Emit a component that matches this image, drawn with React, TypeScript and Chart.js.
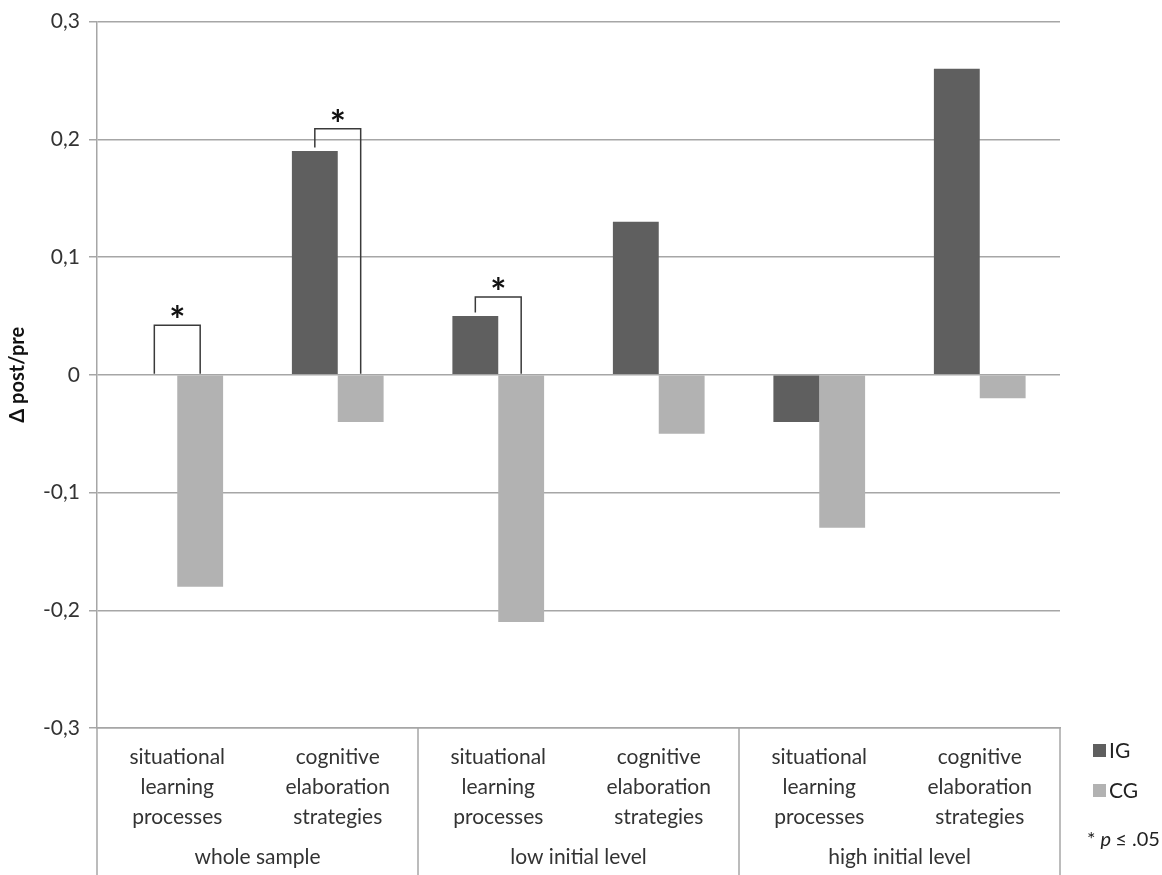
import React, { useEffect, useRef } from "react";
import { Chart, registerables } from "chart.js";

Chart.register(...registerables);

const categories: string[][] = [
  ["situational", "learning", "processes"],
  ["cognitive", "elaboration", "strategies"],
  ["situational", "learning", "processes"],
  ["cognitive", "elaboration", "strategies"],
  ["situational", "learning", "processes"],
  ["cognitive", "elaboration", "strategies"],
];
const groups: string[] = ["whole sample", "low initial level", "high initial level"];
const igValues: (number | null)[] = [null, 0.19, 0.05, 0.13, -0.04, 0.26];
const cgValues: number[] = [-0.18, -0.04, -0.21, -0.05, -0.13, -0.02];
const seriesNames: string[] = ["IG", "CG"];
const seriesColors: string[] = ["#5f5f5f", "#b2b2b2"];
const bracketCategories: number[] = [0, 1, 2];
const bracketTops: number[] = [0.042, 0.209, 0.066];
const yTicks = { min: -0.3, max: 0.3, step: 0.1 };

const FONT = "Lato, 'Open Sans', sans-serif";

const overlayPlugin = {
  id: "overlay",
  afterDraw(chart: any) {
    const ctx = chart.ctx;
    const x = chart.scales.x;
    const y = chart.scales.y;
    const area = chart.chartArea;
    ctx.save();
    // group separators
    ctx.strokeStyle = "#a6a6a6";
    ctx.lineWidth = 1.5;
    const bounds: number[] = [];
    for (let g = 0; g <= groups.length; g++) {
      bounds.push(x.getPixelForValue(g * 2 - 0.5));
    }
    bounds.forEach((bx) => {
      ctx.beginPath();
      ctx.moveTo(bx, area.bottom);
      ctx.lineTo(bx, chart.height);
      ctx.stroke();
    });
    // brackets
    const m0 = chart.getDatasetMeta(0);
    const m1 = chart.getDatasetMeta(1);
    ctx.strokeStyle = "#3a3a3a";
    ctx.lineWidth = 1.5;
    bracketCategories.forEach((c, i) => {
      const xl = m0.data[c].x;
      const xr = m1.data[c].x;
      const top = y.getPixelForValue(bracketTops[i]);
      const igv = igValues[c] ?? 0;
      const leftBottom = y.getPixelForValue(Math.max(igv, 0) + (igv > 0 ? 0.003 : 0)) - (igv > 0 ? 0 : 1);
      const rightBottom = y.getPixelForValue(Math.max(cgValues[c], 0)) - 1;
      ctx.beginPath();
      ctx.moveTo(xl, leftBottom);
      ctx.lineTo(xl, top);
      ctx.lineTo(xr, top);
      ctx.lineTo(xr, rightBottom);
      ctx.stroke();
      ctx.fillStyle = "#111";
      ctx.font = `bold 38px ${FONT}`;
      ctx.textAlign = "center";
      ctx.textBaseline = "alphabetic";
      ctx.fillText("*", (xl + xr) / 2, top + 9);
    });
    // legend
    const lx = area.right + 33;
    ctx.textAlign = "left";
    ctx.textBaseline = "middle";
    ctx.font = `21px ${FONT}`;
    seriesNames.forEach((name, i) => {
      const ly = y.getPixelForValue(yTicks.min) + 22 + i * 40;
      ctx.fillStyle = seriesColors[i];
      ctx.fillRect(lx, ly - 6, 13, 13);
      ctx.fillStyle = "#222";
      ctx.fillText(name, lx + 16, ly + 1);
    });
    const ny = y.getPixelForValue(yTicks.min) + 112;
    let tx = area.right + 27;
    ctx.fillStyle = "#222";
    ctx.font = `20px ${FONT}`;
    ctx.fillText("*", tx, ny);
    tx += ctx.measureText("* ").width;
    ctx.font = `italic 20px ${FONT}`;
    ctx.fillText("p", tx, ny);
    tx += ctx.measureText("p").width + 4;
    ctx.font = `20px ${FONT}`;
    ctx.fillText("\u2264 .05", tx, ny);
    ctx.restore();
  },
};

export default function App() {
  const ref = useRef<HTMLCanvasElement | null>(null);
  useEffect(() => {
    if (!ref.current) return;
    const chart = new Chart(ref.current, {
      type: "bar",
      data: {
        labels: categories as any,
        datasets: [
          {
            label: seriesNames[0],
            data: igValues as any,
            backgroundColor: seriesColors[0],
            categoryPercentage: 2 / 3.5,
            barPercentage: 1,
          },
          {
            label: seriesNames[1],
            data: cgValues,
            backgroundColor: seriesColors[1],
            categoryPercentage: 2 / 3.5,
            barPercentage: 1,
          },
        ],
      },
      options: {
        animation: false,
        responsive: true,
        maintainAspectRatio: false,
        layout: { padding: { top: 20, right: 102, bottom: 0, left: 0 } },
        plugins: { legend: { display: false }, tooltip: { enabled: false } },
        scales: {
          y: {
            min: yTicks.min,
            max: yTicks.max,
            ticks: {
              stepSize: yTicks.step,
              color: "#333",
              font: { family: FONT, size: 21 },
              padding: 9,
              callback: (v: any) => {
                const n = Number(v);
                if (Math.abs(n) < 1e-9) return "0";
                return n.toFixed(1).replace(".", ",");
              },
            },
            grid: { color: "#a6a6a6", lineWidth: 1.5, tickLength: 8 },
            border: { color: "#a6a6a6", width: 1.5 },
            title: {
              display: true,
              text: "\u0394 post/pre",
              color: "#111",
              font: { family: FONT, size: 20, weight: "bold" },
              padding: { top: 6, bottom: 0 },
            },
            afterFit: (s: any) => {
              s.width = 97;
            },
          },
          x: {
            position: "bottom",
            grid: { display: false, drawTicks: false },
            border: { color: "#a6a6a6", width: 1.5 },
            ticks: {
              color: "#333",
              font: { family: FONT, size: 21, lineHeight: 1.43 },
              padding: 14,
              maxRotation: 0,
              autoSkip: false,
            },
            afterFit: (s: any) => {
              s.height = 105;
            },
          },
          x2: {
            type: "category",
            position: "bottom",
            labels: groups,
            offset: true,
            grid: { display: false, drawTicks: false },
            border: { display: false },
            ticks: {
              color: "#333",
              font: { family: FONT, size: 21 },
              padding: 12,
              maxRotation: 0,
            },
            afterFit: (s: any) => {
              s.height = 42;
            },
          },
        },
      } as any,
      plugins: [overlayPlugin],
    });
    return () => chart.destroy();
  }, []);
  return (
    <div style={{ position: "fixed", left: 0, top: 0, width: 1162, height: 875, background: "#fff" }}>
      <canvas ref={ref} />
    </div>
  );
}
